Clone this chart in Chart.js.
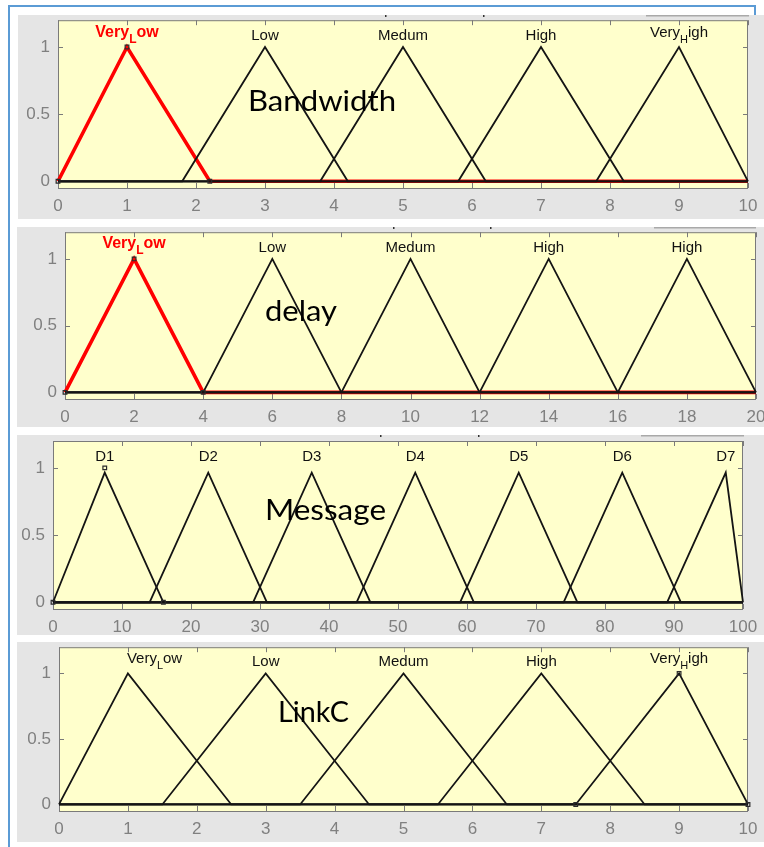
<!DOCTYPE html>
<html>
<head>
<meta charset="utf-8">
<title>Membership functions</title>
<script src="https://cdn.jsdelivr.net/npm/chart.js@4.4.1/dist/chart.umd.min.js"></script>
<style>
  html, body { margin: 0; padding: 0; background: #ffffff; }
  body { width: 764px; height: 847px; position: relative; overflow: hidden; }
  .frame { position: absolute; background: #5b9bd5; }
  canvas.panel { position: absolute; background: #e5e5e5; }
</style>
</head>
<body>
<div class="frame" style="left:8px;top:5px;width:748px;height:2px;"></div>
<div class="frame" style="left:8px;top:5px;width:2px;height:842px;"></div>
<div class="frame" style="left:754px;top:5px;width:2px;height:12px;"></div>
<script>
// ---- Bandwidth (input 1) ----
const bandwidthTicks  = [0, 1, 2, 3, 4, 5, 6, 7, 8, 9, 10];
const bandwidthNames  = ['Very_Low', 'Low', 'Medum', 'High', 'Very_High'];
const bandwidthParams = [[0, 1, 2.2], [1.8, 3, 4.2], [3.8, 5, 6.2], [5.8, 7, 8.2], [7.8, 9, 10]];
const bandwidthPeak   = 1;
const bandwidthPicked = 0;
const bandwidthHandles = [[0, 0], [1, 1], [2.2, 0]];

// ---- delay (input 2) ----
const delayTicks  = [0, 2, 4, 6, 8, 10, 12, 14, 16, 18, 20];
const delayNames  = ['Very_Low', 'Low', 'Medum', 'High', 'High'];
const delayParams = [[0, 2, 4], [4, 6, 8], [8, 10, 12], [12, 14, 16], [16, 18, 20]];
const delayPeak   = 1;
const delayPicked = 0;
const delayHandles = [[0, 0], [2, 1], [4, 0]];

// ---- Message (input 3) ----
const messageTicks  = [0, 10, 20, 30, 40, 50, 60, 70, 80, 90, 100];
const messageNames  = ['D1', 'D2', 'D3', 'D4', 'D5', 'D6', 'D7'];
const messageParams = [[0, 7.5, 16], [14, 22.5, 31], [29, 37.5, 46], [44, 52.5, 61],
                       [59, 67.5, 76], [74, 82.5, 91], [89, 97.5, 100]];
const messagePeak   = 0.965;
const messagePicked = -1;
const messageHandles = [[0, 0], [7.5, 1], [16, 0]];

// ---- LinkC (input 4) ----
const linkTicks  = [0, 1, 2, 3, 4, 5, 6, 7, 8, 9, 10];
const linkNames  = ['Very_Low', 'Low', 'Medum', 'High', 'Very_High'];
const linkParams = [[0, 1, 2.5], [1.5, 3, 4.5], [3.5, 5, 6.5], [5.5, 7, 8.5], [7.5, 9, 10]];
const linkPeak   = 1;
const linkPicked = -1;
const linkHandles = [[7.5, 0], [9, 1], [10, 0]];

// membership axis
const yTicks = [0, 0.5, 1];
const yRange = [-0.05, 1.2];

// ---- page layout (pixels) ----
const layouts = [
  { canvas: [18, 15, 746, 204], plot: [58, 20, 748, 188], title: [248, 111, 148],
    gui: { line: [646, 749], dots: [385, 483] }, alignFirst: 'center' },
  { canvas: [17, 227, 747, 200], plot: [65, 231, 756, 399], title: [265, 321, 72],
    gui: { line: [654, 756], dots: [393, 490] }, alignFirst: 'center' },
  { canvas: [17, 435, 747, 200], plot: [53, 441, 743, 609], title: [265, 520, 121],
    gui: { line: [641, 744], dots: [380, 478] }, alignFirst: 'center' },
  { canvas: [17, 642, 747, 200], plot: [59, 647, 748, 811], title: [278, 722, 71],
    gui: null, alignFirst: 'left' }
];

const variables = [
  { title: 'Bandwidth', ticks: bandwidthTicks, names: bandwidthNames, params: bandwidthParams,
    peak: bandwidthPeak, picked: bandwidthPicked, handles: bandwidthHandles },
  { title: 'delay', ticks: delayTicks, names: delayNames, params: delayParams,
    peak: delayPeak, picked: delayPicked, handles: delayHandles },
  { title: 'Message', ticks: messageTicks, names: messageNames, params: messageParams,
    peak: messagePeak, picked: messagePicked, handles: messageHandles },
  { title: 'LinkC', ticks: linkTicks, names: linkNames, params: linkParams,
    peak: linkPeak, picked: linkPicked, handles: linkHandles }
];

const TICK_FONT = { family: 'Liberation Sans', size: 17 };
const AXIS_GRAY = '#7a7a7a';

// triangular MF drawn across the whole universe of discourse
function triangle(p, peak, lo, hi) {
  const pts = [];
  if (p[0] > lo) pts.push({ x: lo, y: 0 });
  pts.push({ x: p[0], y: 0 }, { x: p[1], y: peak }, { x: p[2], y: 0 });
  if (p[2] < hi) pts.push({ x: hi, y: 0 });
  return pts;
}

// MF name; an underscore turns the next letter into a subscript
function drawName(ctx, text, cx, y1, align, color, bold) {
  const weight = bold ? 'bold ' : '';
  const size = bold ? 16 : 15;
  const main = weight + size + 'px "Liberation Sans"';
  const small = weight + (size - 4) + 'px "Liberation Sans"';
  ctx.fillStyle = color;
  ctx.textBaseline = 'alphabetic';
  ctx.textAlign = 'left';
  const cut = text.indexOf('_');
  if (cut < 0) {
    ctx.font = main;
    const w = ctx.measureText(text).width;
    const x0 = align === 'left' ? cx : cx - w / 2;
    ctx.fillText(text, x0, y1 - 7);
    return;
  }
  const a = text.slice(0, cut), s = text.charAt(cut + 1), b = text.slice(cut + 2);
  ctx.font = main;  const wa = ctx.measureText(a).width, wb = ctx.measureText(b).width;
  ctx.font = small; const ws = ctx.measureText(s).width;
  const total = wa + ws + wb;
  const x0 = align === 'left' ? cx - 1 : cx - total / 2;
  const base = y1 - 10.5;
  ctx.font = main;  ctx.fillText(a, x0, base);
  ctx.font = small; ctx.fillText(s, x0 + wa, base + 6);
  ctx.font = main;  ctx.fillText(b, x0 + wa + ws, base);
}

function panelPlugin(v, L) {
  return {
    id: 'mfPanel',
    beforeDraw(chart) {
      const { ctx, chartArea: a } = chart;
      ctx.save();
      ctx.fillStyle = '#ffffcc';
      ctx.fillRect(a.left, a.top, a.right - a.left, a.bottom - a.top);
      if (L.gui) {
        ctx.fillStyle = '#a9a9a9';
        ctx.fillRect(L.gui.line[0] - L.canvas[0], 0, L.gui.line[1] - L.gui.line[0], 1.5);
        ctx.fillStyle = '#333333';
        L.gui.dots.forEach(d => ctx.fillRect(d - L.canvas[0], 0, 1.5, 2));
      }
      ctx.restore();
    },
    beforeDatasetsDraw(chart) {
      const { ctx, chartArea: a, scales: { x, y } } = chart;
      ctx.save();
      ctx.strokeStyle = AXIS_GRAY;
      ctx.lineWidth = 1;
      ctx.strokeRect(a.left + 0.5, a.top + 0.5, a.right - a.left - 1, a.bottom - a.top);
      ctx.beginPath();
      v.ticks.forEach(t => {
        const px = Math.round(x.getPixelForValue(t)) + 0.5;
        ctx.moveTo(px, a.bottom); ctx.lineTo(px, a.bottom - 5);
        ctx.moveTo(px, a.top); ctx.lineTo(px, a.top + 5);
      });
      yTicks.forEach(t => {
        const py = Math.round(y.getPixelForValue(t)) + 0.5;
        ctx.moveTo(a.left, py); ctx.lineTo(a.left + 5, py);
        ctx.moveTo(a.right, py); ctx.lineTo(a.right - 5, py);
      });
      ctx.stroke();
      ctx.restore();
    },
    afterDatasetsDraw(chart) {
      const { ctx, scales: { x, y } } = chart;
      ctx.save();
      const y1 = y.getPixelForValue(1);
      v.names.forEach((name, k) => {
        const picked = k === v.picked;
        const align = k === 0 ? L.alignFirst : 'center';
        drawName(ctx, name, x.getPixelForValue(v.params[k][1]), y1, align,
                 picked ? '#ff0000' : '#111111', picked);
      });
      // variable name written over the plot
      ctx.font = '28px Lato';
      ctx.fillStyle = '#000000';
      ctx.textAlign = 'left';
      ctx.textBaseline = 'alphabetic';
      const w = ctx.measureText(v.title).width;
      ctx.translate(L.title[0] - L.canvas[0], L.title[1] - L.canvas[1]);
      ctx.scale(L.title[2] / w, 1);
      ctx.fillText(v.title, 0, 0);
      ctx.restore();
    }
  };
}

function buildPanel(v, L) {
  const cv = document.createElement('canvas');
  cv.className = 'panel';
  cv.width = L.canvas[2];
  cv.height = L.canvas[3];
  cv.style.left = L.canvas[0] + 'px';
  cv.style.top = L.canvas[1] + 'px';
  cv.style.width = L.canvas[2] + 'px';
  cv.style.height = L.canvas[3] + 'px';
  document.body.appendChild(cv);

  const plotLeft = L.plot[0] - L.canvas[0];
  const plotTop = L.plot[1] - L.canvas[1];
  const plotRight = L.plot[2] - L.canvas[0];
  const plotBottom = L.plot[3] - L.canvas[1];
  const lo = v.ticks[0], hi = v.ticks[v.ticks.length - 1];

  const datasets = v.params.map((p, k) => {
    const picked = k === v.picked;
    return {
      data: triangle(p, v.peak, lo, hi),
      showLine: true,
      borderColor: picked ? '#ff0000' : '#141414',
      borderWidth: picked ? 3.6 : 1.8,
      borderJoinStyle: 'miter',
      pointRadius: 0,
      order: picked ? 2 : 1,
      clip: false,
      fill: false
    };
  });
  datasets.push({
    data: v.handles.map(h => ({ x: h[0], y: h[1] })),
    showLine: false,
    pointStyle: 'rect',
    pointRadius: 2.6,
    borderWidth: 1.2,
    borderColor: '#2b2b2b',
    backgroundColor: 'rgba(0,0,0,0)',
    order: 0,
    clip: false
  });

  return new Chart(cv, {
    type: 'scatter',
    data: { datasets },
    options: {
      responsive: false,
      animation: false,
      events: [],
      layout: { padding: { left: 0, top: plotTop, right: L.canvas[2] - plotRight, bottom: 0 } },
      plugins: { legend: { display: false }, tooltip: { enabled: false }, title: { display: false } },
      scales: {
        x: {
          type: 'linear', min: lo, max: hi,
          afterBuildTicks: s => { s.ticks = v.ticks.map(t => ({ value: t })); },
          afterFit: s => { s.height = L.canvas[3] - plotBottom; s.paddingLeft = 0; s.paddingRight = 0; },
          grid: { display: false, drawTicks: false },
          border: { display: false },
          ticks: { autoSkip: false, maxRotation: 0, padding: 8, color: '#808080', font: TICK_FONT,
                   callback: val => String(val) }
        },
        y: {
          type: 'linear', min: yRange[0], max: yRange[1],
          afterBuildTicks: s => { s.ticks = yTicks.map(t => ({ value: t })); },
          afterFit: s => { s.width = plotLeft; s.paddingTop = 0; s.paddingBottom = 0; },
          grid: { display: false, drawTicks: false },
          border: { display: false },
          ticks: { autoSkip: false, padding: 8, color: '#808080', font: TICK_FONT,
                   callback: val => String(val) }
        }
      }
    },
    plugins: [panelPlugin(v, L)]
  });
}

variables.forEach((v, i) => buildPanel(v, layouts[i]));
</script>
</body>
</html>
